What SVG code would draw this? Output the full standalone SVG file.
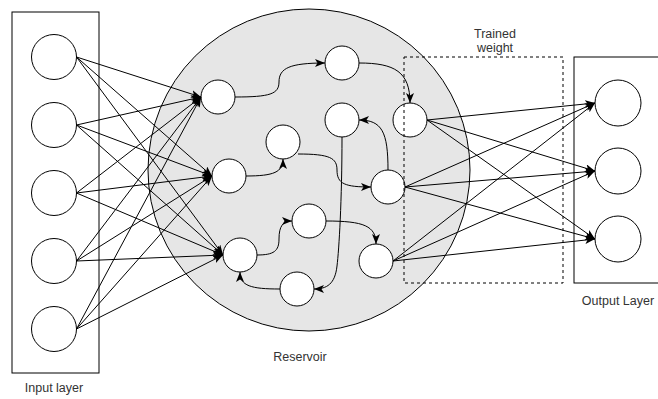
<svg xmlns="http://www.w3.org/2000/svg" width="658" height="399" viewBox="0 0 658 399">
  <style>
    .frame { fill: #ffffff; stroke: #000000; stroke-width: 1; }
    .dash { fill: none; stroke: #000000; stroke-width: 1; stroke-dasharray: 3 3; }
    .res { fill: #e6e6e6; stroke: #000000; stroke-width: 1; }
    .node { fill: #ffffff; stroke: #000000; stroke-width: 1; }
    .edge { fill: none; stroke: #000000; stroke-width: 1; marker-end: url(#arrow); }
    .label { font-family: "Liberation Sans", Arial, sans-serif; font-size: 12.5px; fill: #333333; text-anchor: middle; }
  </style>
  <defs>
    <marker id="arrow" viewBox="0 0 10 8" refX="10" refY="4" markerWidth="10" markerHeight="8" markerUnits="userSpaceOnUse" orient="auto">
      <path d="M0,0 L10,4 L0,8 L2.5,4 z" fill="#000000"/>
    </marker>
  </defs>

  <!-- containers -->
  <g id="input-layer">
    <rect class="frame" x="12" y="12" width="87" height="361"/>
    <text class="label" x="54" y="392">Input layer</text>
  </g>
  <g id="reservoir">
    <circle class="res" cx="309" cy="170" r="161"/>
    <text class="label" x="300" y="361">Reservoir</text>
  </g>
  <g id="output-layer">
    <rect class="frame" x="574" y="57" width="90" height="226"/>
    <text class="label" x="618" y="305">Output Layer</text>
  </g>

  <!-- input neurons -->
  <g id="in1"><circle class="node" cx="54" cy="57" r="22.5"/></g>
  <g id="in2"><circle class="node" cx="54" cy="125" r="22.5"/></g>
  <g id="in3"><circle class="node" cx="54" cy="193" r="22.5"/></g>
  <g id="in4"><circle class="node" cx="54" cy="261" r="22.5"/></g>
  <g id="in5"><circle class="node" cx="54" cy="329" r="22.5"/></g>

  <!-- reservoir neurons -->
  <g id="rA"><circle class="node" cx="218" cy="97" r="17"/></g>
  <g id="rB"><circle class="node" cx="342" cy="63" r="17"/></g>
  <g id="rC"><circle class="node" cx="410" cy="120" r="17"/></g>
  <g id="rD"><circle class="node" cx="342" cy="120" r="17"/></g>
  <g id="rE"><circle class="node" cx="283" cy="142" r="17"/></g>
  <g id="rF"><circle class="node" cx="229" cy="176" r="17"/></g>
  <g id="rG"><circle class="node" cx="388" cy="187" r="17"/></g>
  <g id="rH"><circle class="node" cx="309" cy="221" r="17"/></g>
  <g id="rI"><circle class="node" cx="240" cy="255" r="17"/></g>
  <g id="rJ"><circle class="node" cx="376" cy="261" r="17"/></g>
  <g id="rK"><circle class="node" cx="297" cy="289" r="17"/></g>

  <!-- output neurons -->
  <g id="out1"><circle class="node" cx="618" cy="103" r="23"/></g>
  <g id="out2"><circle class="node" cx="618" cy="171" r="23"/></g>
  <g id="out3"><circle class="node" cx="618" cy="239" r="23"/></g>

  <!-- readout region -->
  <g id="trained-weight">
    <rect class="dash" x="404" y="57" width="159" height="226"/>
    <text class="label" x="495" y="38">Trained</text>
    <text class="label" x="495" y="52">weight</text>
  </g>

  <g id="connectors">
    <!-- input layer to reservoir -->
    <path class="edge" d="M76.5,57 L201,97"/>
    <path class="edge" d="M76.5,57 L212,176"/>
    <path class="edge" d="M76.5,57 L223,255"/>
    <path class="edge" d="M76.5,125 L201,97"/>
    <path class="edge" d="M76.5,125 L212,176"/>
    <path class="edge" d="M76.5,125 L223,255"/>
    <path class="edge" d="M76.5,193 L201,97"/>
    <path class="edge" d="M76.5,193 L212,176"/>
    <path class="edge" d="M76.5,193 L223,255"/>
    <path class="edge" d="M76.5,261 L201,97"/>
    <path class="edge" d="M76.5,261 L212,176"/>
    <path class="edge" d="M76.5,261 L223,255"/>
    <path class="edge" d="M76.5,329 L201,97"/>
    <path class="edge" d="M76.5,329 L212,176"/>
    <path class="edge" d="M76.5,329 L223,255"/>

    <!-- recurrent links inside the reservoir -->
    <path class="edge" d="M235,97 C270,97 279,94 279,82 C279,68 290,63 325,63"/>
    <path class="edge" d="M359,63 C395,63 410,72 410,103"/>
    <path class="edge" d="M388,170 C388,132 382,120 359,120"/>
    <path class="edge" d="M298,154 C330,154 337,158 337,170 C337,184 345,187 371,187"/>
    <path class="edge" d="M246,176 C274,176 283,172 283,159"/>
    <path class="edge" d="M342,137 C342,200 339,250 337,266 C335,284 327,289 314,289"/>
    <path class="edge" d="M280,289 C251,289 240,286 240,272"/>
    <path class="edge" d="M257,255 C274,255 279,251 279,239 C279,226 283,221 292,221"/>
    <path class="edge" d="M326,221 C364,221 376,226 376,244"/>

    <!-- reservoir to output layer -->
    <path class="edge" d="M427,120 L595,103"/>
    <path class="edge" d="M427,120 L595,171"/>
    <path class="edge" d="M427,120 L595,239"/>
    <path class="edge" d="M405,187 L595,103"/>
    <path class="edge" d="M405,187 L595,171"/>
    <path class="edge" d="M405,187 L595,239"/>
    <path class="edge" d="M393,261 L595,103"/>
    <path class="edge" d="M393,261 L595,171"/>
    <path class="edge" d="M393,261 L595,239"/>
  </g>
</svg>
